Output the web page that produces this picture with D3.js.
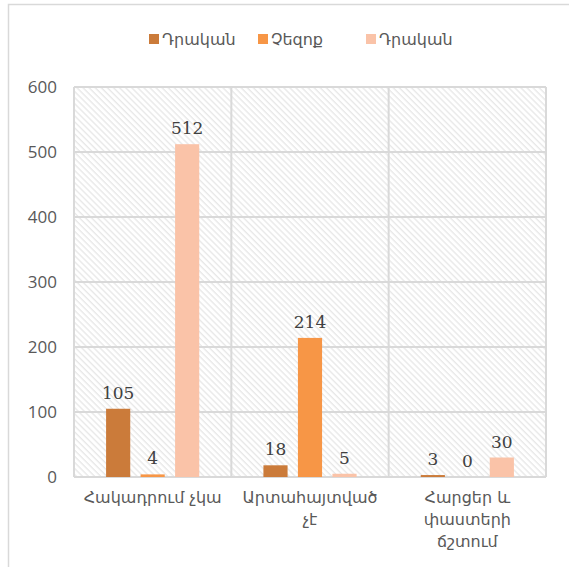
<!DOCTYPE html>
<html>
<head>
<meta charset="utf-8">
<script src="https://cdn.jsdelivr.net/npm/d3@7"></script>
<style>
  body { margin: 0; background: #fff; }
  svg { display: block; }
</style>
</head>
<body>
<div id="graph"></div>
<script>
// chart data
var categories = ["Հակադրում չկա", "Արտահայտված չէ", "Հարցեր և փաստերի ճշտում"];
var seriesNames = ["Դրական", "Չեզոք", "Դրական"];
var seriesColors = ["#cb7b3a", "#f79646", "#fac3a8"];
var series1 = [105, 18, 3];
var series2 = [4, 214, 0];
var series3 = [512, 5, 30];
var yTicks = [0, 100, 200, 300, 400, 500, 600];

var allSeries = [series1, series2, series3];

var width = 569, height = 567;
var margin = { top: 87, right: 23, bottom: 90, left: 74 };

var svg = d3.select("#graph").append("svg")
    .attr("width", width)
    .attr("height", height);

// hatch pattern for the plot background
var defs = svg.append("defs");
defs.append("pattern")
    .attr("id", "hatch")
    .attr("patternUnits", "userSpaceOnUse")
    .attr("width", 4.3)
    .attr("height", 4.3)
    .attr("patternTransform", "rotate(-45)")
  .append("line")
    .attr("x1", 1).attr("y1", 0)
    .attr("x2", 1).attr("y2", 4.3)
    .style("stroke", "#e2e2e2")
    .style("stroke-width", 1.1);

// outer chart border (only top/left visible)
svg.append("rect")
    .attr("x", 8.5).attr("y", 4.5)
    .attr("width", width).attr("height", height)
    .style("fill", "none")
    .style("stroke", "#d9d9d9")
    .style("stroke-width", 1.5);

var x0 = d3.scaleBand()
    .domain(d3.range(categories.length))
    .range([margin.left, width - margin.right]);

var x1 = d3.scaleBand()
    .domain(d3.range(allSeries.length))
    .range([0, x0.bandwidth()])
    .paddingInner(0.3)
    .paddingOuter(0.93);

var y = d3.scaleLinear()
    .domain([0, 600])
    .range([height - margin.bottom, margin.top]);

var plotW = width - margin.right - margin.left;
var plotH = height - margin.bottom - margin.top;

svg.append("rect")
    .attr("x", margin.left).attr("y", margin.top)
    .attr("width", plotW).attr("height", plotH)
    .style("fill", "url(#hatch)");

// horizontal gridlines
svg.append("g").selectAll("line")
    .data(yTicks)
    .enter().append("line")
    .attr("x1", margin.left).attr("x2", width - margin.right)
    .attr("y1", function(d) { return y(d); })
    .attr("y2", function(d) { return y(d); })
    .style("stroke", "#d9d9d9")
    .style("stroke-width", 2);

// vertical category separators
var seps = d3.range(categories.length + 1).map(function(i) {
    return i < categories.length ? x0(i) : x0(i - 1) + x0.bandwidth();
});
svg.append("g").selectAll("line")
    .data(seps)
    .enter().append("line")
    .attr("x1", function(d) { return d; }).attr("x2", function(d) { return d; })
    .attr("y1", margin.top).attr("y2", height - margin.bottom)
    .style("stroke", "#d9d9d9")
    .style("stroke-width", 2);

// y tick labels
svg.append("g").selectAll("text")
    .data(yTicks)
    .enter().append("text")
    .attr("x", 57)
    .attr("y", function(d) { return y(d); })
    .attr("dy", "0.35em")
    .attr("text-anchor", "end")
    .style("font-family", "'Open Sans', 'DejaVu Sans', sans-serif")
    .style("font-size", "17px")
    .style("fill", "#595959")
    .text(function(d) { return d; });

// bars
allSeries.forEach(function(vals, s) {
    var g = svg.append("g");
    g.selectAll("rect")
        .data(vals)
        .enter().append("rect")
        .attr("x", function(d, i) { return x0(i) + x1(s); })
        .attr("width", x1.bandwidth())
        .attr("y", function(d) { return d > 0 ? y(d) : y(0) - 1; })
        .attr("height", function(d) { return d > 0 ? y(0) - y(d) : 0; })
        .style("fill", seriesColors[s]);

    g.selectAll("text")
        .data(vals)
        .enter().append("text")
        .attr("x", function(d, i) { return x0(i) + x1(s) + x1.bandwidth() / 2; })
        .attr("y", function(d) { return y(d) - 10; })
        .attr("text-anchor", "middle")
        .style("font-family", "'DejaVu Serif', serif")
        .style("font-size", "17px")
        .style("fill", "#404040")
        .text(function(d) { return d; });
});

// category labels, wrapped to the band width
function wrapWords(text, maxW, sel) {
    var words = text.split(" ");
    var lines = [];
    var line = "";
    var probe = sel.append("text").style("visibility", "hidden");
    words.forEach(function(w) {
        var test = line ? line + " " + w : w;
        probe.text(test);
        if (probe.node().getComputedTextLength() > maxW && line) {
            lines.push(line);
            line = w;
        } else {
            line = test;
        }
    });
    lines.push(line);
    probe.remove();
    return lines;
}

var catG = svg.append("g")
    .style("font-family", "'DejaVu Sans', sans-serif")
    .style("font-size", "16px")
    .style("fill", "#595959");

categories.forEach(function(c, i) {
    var t = catG.append("text")
        .attr("x", x0(i) + x0.bandwidth() / 2)
        .attr("y", 503)
        .attr("text-anchor", "middle");
    var lines = wrapWords(c, 150, catG);
    lines.forEach(function(l, k) {
        t.append("tspan")
            .attr("x", x0(i) + x0.bandwidth() / 2)
            .attr("dy", k === 0 ? 0 : 22)
            .text(l);
    });
});

// legend
var legendX = [149, 258, 366];
var legend = svg.append("g")
    .style("font-family", "'DejaVu Sans', sans-serif")
    .style("font-size", "16px")
    .style("fill", "#595959");

seriesNames.forEach(function(name, s) {
    legend.append("rect")
        .attr("x", legendX[s]).attr("y", 34)
        .attr("width", 10).attr("height", 10)
        .style("fill", seriesColors[s]);
    legend.append("text")
        .attr("x", legendX[s] + 13)
        .attr("y", 39)
        .attr("dy", "0.35em")
        .text(name);
});
</script>
</body>
</html>
